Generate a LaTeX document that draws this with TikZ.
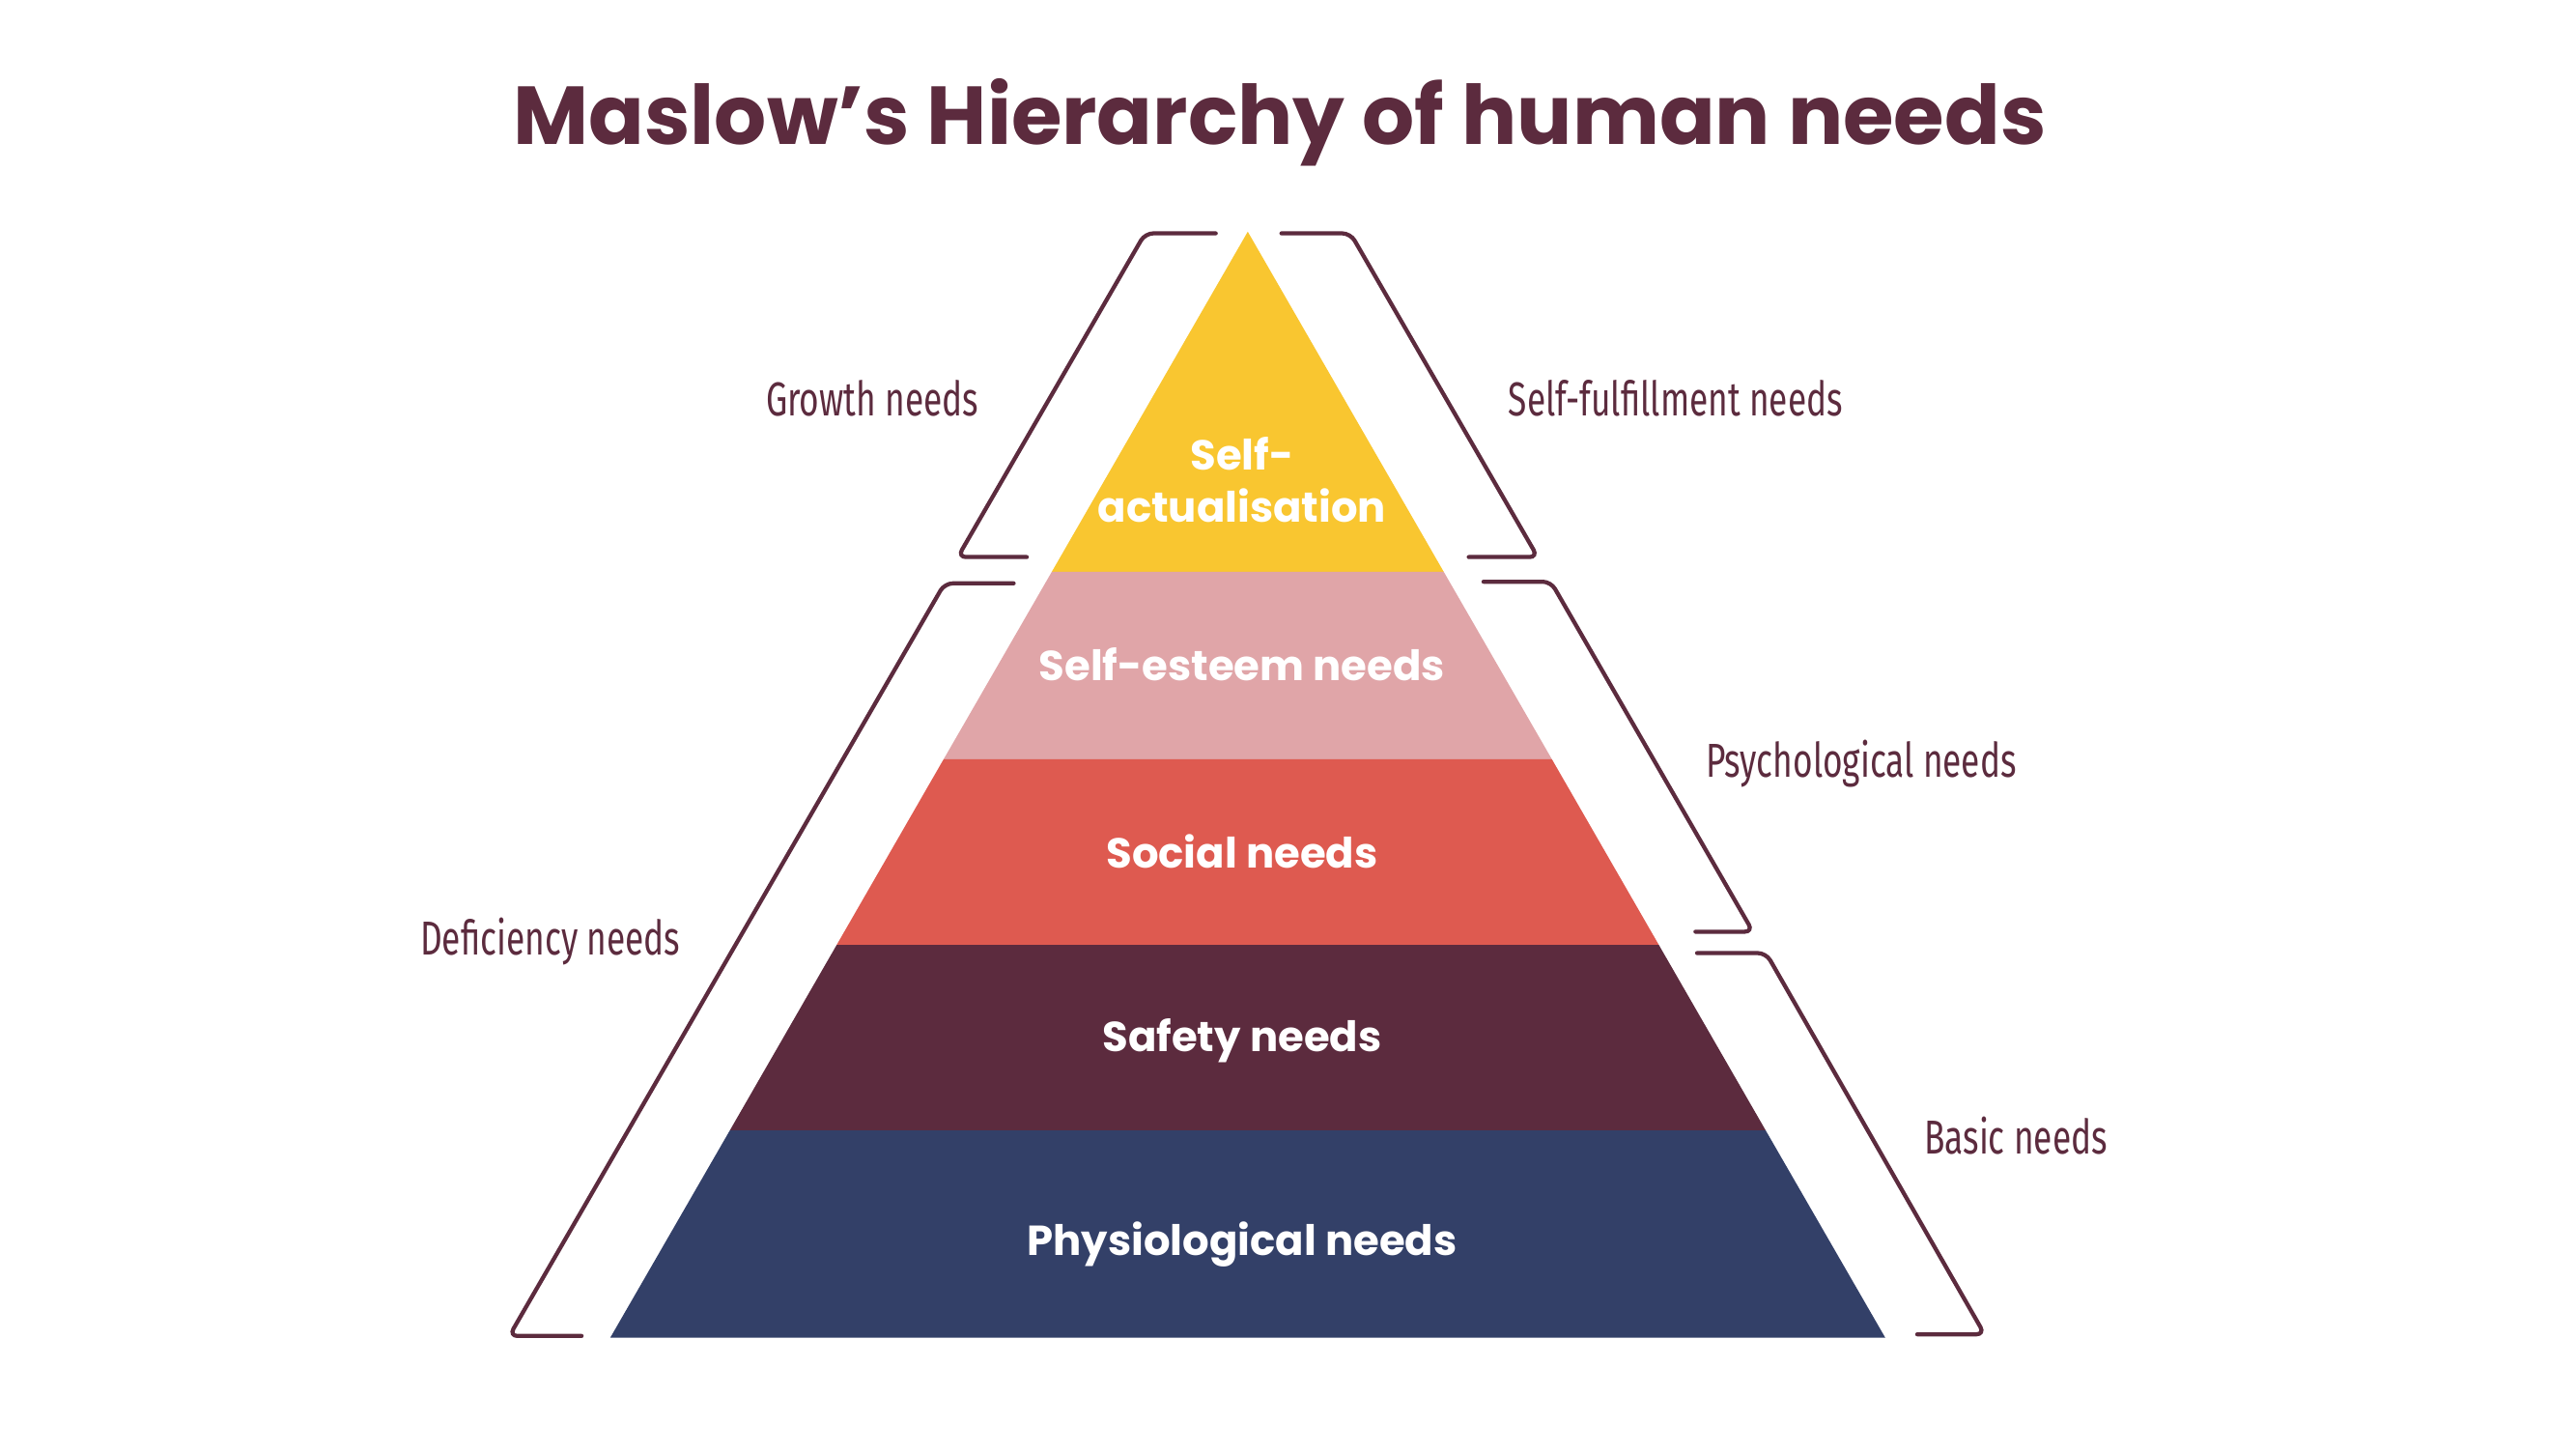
\documentclass[tikz,border=0pt]{standalone}
\usepackage{fontspec}
\setmainfont{Poppins}
\newfontfamily\sidefont[FakeStretch=0.715]{Fira Sans}
\definecolor{plum}{HTML}{5C2B3E}
\definecolor{sunyellow}{HTML}{F9C630}
\definecolor{rosepink}{HTML}{E0A5A8}
\definecolor{coral}{HTML}{DE5A50}
\definecolor{navy}{HTML}{334068}
\begin{document}
\begin{tikzpicture}[x=1pt,y=-1pt,
  layerlabel/.style={text=white,font=\fontsize{25.5}{32}\selectfont\bfseries,align=center,inner sep=0pt},
  sidelabel/.style={text=plum,font=\sidefont\fontsize{29}{34}\selectfont,inner sep=0pt},
  bracket/.style={draw=plum,line width=2.5pt,rounded corners=5pt,line cap=round}]
\useasboundingbox (0,0) rectangle (1568,884);
\fill[white] (0,0) rectangle (1568,884);
% title
\node[text=plum,font=\fontsize{50}{60}\selectfont\bfseries,anchor=base,inner sep=0pt] (title) at (779,88) {Maslow’s Hierarchy of human needs};
% layers
\fill[sunyellow] (759.5,141) -- (878.8,348) -- (640.2,348) -- cycle;
\fill[rosepink] (640.2,348) -- (878.8,348) -- (944.6,462) -- (574.4,462) -- cycle;
\fill[coral] (574.4,462) -- (944.6,462) -- (1009.7,575) -- (509.3,575) -- cycle;
\fill[plum] (509.3,575) -- (1009.7,575) -- (1074.8,688) -- (444.2,688) -- cycle;
\fill[navy] (444.2,688) -- (1074.8,688) -- (1147.5,814) -- (371.5,814) -- cycle;
% layer labels
\node[layerlabel,anchor=base] (l5a) at (756,286) {Self-};
\node[layerlabel,anchor=base] (l5b) at (756,318) {actualisation};
\node[layerlabel,anchor=base] (l4) at (756,414) {Self-esteem needs};
\node[layerlabel,anchor=base] (l3) at (756,528) {Social needs};
\node[layerlabel,anchor=base] (l2) at (756,640) {Safety needs};
\node[layerlabel,anchor=base] (l1) at (756,764) {Physiological needs};
% brackets
\draw[bracket] (740,142) -- (697,142) -- (583,339) -- (625,339);
\draw[bracket] (780,142) -- (822,142) -- (936,339) -- (894,339);
\draw[bracket] (617,355) -- (575,355) -- (310,813) -- (354,813);
\draw[bracket] (903,354) -- (944,354) -- (1067,567) -- (1032,567);
\draw[bracket] (1033,580) -- (1075,580) -- (1208,812) -- (1167,812);
% side labels
\node[sidelabel,anchor=base] (growth) at (531,253) {Growth needs};
\node[sidelabel,anchor=base] (selffulfil) at (1020,253) {Self-fulfillment needs};
\node[sidelabel,anchor=base] (psych) at (1133,473) {Psychological needs};
\node[sidelabel,anchor=base] (deficiency) at (335,581) {Deficiency needs};
\node[sidelabel,anchor=base] (basic) at (1227,702) {Basic needs};
\end{tikzpicture}
\end{document}
